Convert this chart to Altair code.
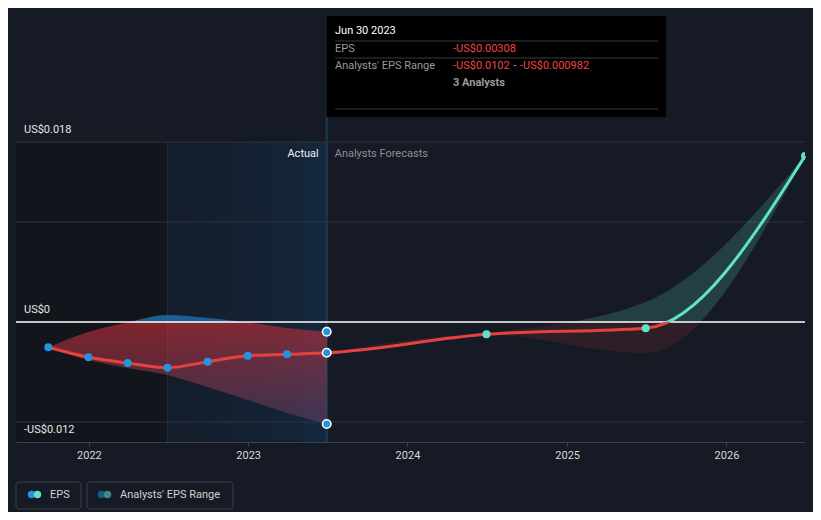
import altair as alt
import pandas as pd

FONT = "Roboto"
BG = "#151a24"
RED = "#e5413f"
TEAL = "#5fe2c8"
BLUE = "#2394df"

# ---- data ----
actual_dates = ["2021-09-30", "2021-12-31", "2022-03-31", "2022-06-30",
                "2022-09-30", "2022-12-31", "2023-03-31", "2023-06-30"]
actual_eps = [-0.00253, -0.00353, -0.0041, -0.00457, -0.00397, -0.00337, -0.00323, -0.00308]
actual_low = [-0.00253, -0.0038, -0.0046, -0.0053, -0.0065, -0.0078, -0.0091, -0.0102]
actual_high = [-0.00253, -0.0010, -0.00005, 0.0007, 0.0004, -0.00005, -0.0006, -0.000982]

fc_dates = ["2023-06-30", "2024-06-30", "2025-06-30", "2026-06-30"]
fc_eps = [-0.00308, -0.00123, -0.00063, 0.0166]
fc_low = [-0.00308, -0.00125, -0.0031, 0.0166]
fc_high = [-0.00308, -0.0012, 0.0020, 0.0166]

tick_years = [2022, 2023, 2024, 2025, 2026]
grid_values = [0.018, 0.01, -0.01]
y_label_values = [0.018, 0.0, -0.012]
y_label_texts = ["US$0.018", "US$0", "-US$0.012"]
region_dates = ["2021-07-18", "2022-06-30", "2023-06-30"]
x_domain = ["2021-07-18", "2026-06-30"]
y_domain = [-0.012, 0.018]
tooltip_date = "Jun 30 2023"
tooltip_analysts = "3 Analysts"

W, H = 789, 300


def dt(s):
    y, m, d = map(int, s.split("-"))
    return alt.DateTime(year=y, month=m, date=d, utc=True)


def fmt(v):
    return ("-" if v < 0 else "") + "US$" + f"{abs(v):g}"


xscale = alt.Scale(domain=[dt(x_domain[0]), dt(x_domain[1])])
yscale = alt.Scale(domain=y_domain)
xaxis = alt.Axis(values=[alt.DateTime(year=y, month=1, date=1, utc=True) for y in tick_years],
                 format="%Y", formatType="utc", title=None, grid=False,
                 domainColor="#3b414c", tickColor="#3b414c", tickSize=4,
                 labelColor="#d8d8d8", labelFont=FONT, labelFontSize=11, labelPadding=3)


def X(f):
    return alt.X(f"{f}:T", scale=xscale, axis=xaxis)


def Y(f):
    return alt.Y(f"{f}:Q", scale=yscale, axis=None)


def vgrad(stops, horizontal=False):
    return alt.Gradient(gradient="linear",
                        stops=[alt.GradientStop(offset=o, color=c) for o, c in stops],
                        x1=0, y1=0, x2=1 if horizontal else 0, y2=0 if horizontal else 1)


one = pd.DataFrame({"a": [0]})


def txt(s, x, y, color, size=11, align="left", weight="normal"):
    return alt.Chart(one).mark_text(text=s, align=align, baseline="middle", color=color,
                                    fontSize=size, font=FONT, fontWeight=weight).encode(
        x=alt.value(x), y=alt.value(y))


# ---- frames ----
line_df = pd.DataFrame({"date": actual_dates + fc_dates[1:], "eps": actual_eps + fc_eps[1:]})
act_df = pd.DataFrame({"date": actual_dates, "eps": actual_eps, "low": actual_low, "high": actual_high})
fc_df = pd.DataFrame({"date": fc_dates, "eps": fc_eps, "low": fc_low, "high": fc_high})
dark_df = pd.DataFrame({"s": [region_dates[0]], "e": [region_dates[1]]})
hl_df = pd.DataFrame({"s": [region_dates[1]], "e": [region_dates[2]]})
hl_start_df = pd.DataFrame({"date": [region_dates[1]]})
now_df = pd.DataFrame({"date": [region_dates[2]]})
grid_df = pd.DataFrame({"v": grid_values})
zero_df = pd.DataFrame({"v": [0.0]})
ylab_df = pd.DataFrame({"v": y_label_values, "t": y_label_texts})
last_pts = pd.DataFrame({"date": [actual_dates[-1]] * 3,
                         "v": [actual_eps[-1], actual_low[-1], actual_high[-1]]})


# gradient offsets where value == 0
def zoff(vals):
    mx, mn = max(vals), min(vals)
    return mx / (mx - mn)


z_line = zoff(line_df["eps"].tolist())
z_act = zoff(actual_low + actual_high)
z_fc = zoff(fc_low + fc_high)

layers = []
layers.append(alt.Chart(dark_df).mark_rect(color="#12151c").encode(
    x=X("s"), x2="e", y=alt.value(0), y2=alt.value(H)))
layers.append(alt.Chart(hl_df).mark_rect(fill=vgrad(
    [(0, "rgba(10,100,180,0.04)"), (0.86, "rgba(10,100,180,0.14)"),
     (0.861, "rgba(10,100,180,0.19)"), (1, "rgba(10,100,180,0.19)")], horizontal=True)).encode(
    x=X("s"), x2="e", y=alt.value(0), y2=alt.value(H)))
layers.append(alt.Chart(hl_start_df).mark_rule(color="rgba(60,110,160,0.25)", strokeWidth=1).encode(
    x=X("date"), y=alt.value(0), y2=alt.value(H)))
layers.append(alt.Chart(grid_df).mark_rule(color="#2e343e", strokeWidth=1).encode(y=Y("v")))
layers.append(alt.Chart(now_df).mark_rule(color="#1c3a54", strokeWidth=2).encode(
    x=X("date"), y=alt.value(-25), y2=alt.value(H)))
layers.append(alt.Chart(act_df).mark_area(interpolate="monotone", fill=vgrad([
    (0, "#1d5e93"), (z_act, "#1d5e93"), (z_act, "rgba(200,45,52,0.62)"),
    (1, "rgba(125,72,112,0.40)")])).encode(x=X("date"), y=Y("low"), y2="high"))
layers.append(alt.Chart(fc_df).mark_area(interpolate="monotone", fill=vgrad([
    (0, "rgba(95,225,200,0.19)"), (z_fc, "rgba(95,225,200,0.19)"),
    (z_fc, "rgba(229,65,63,0.12)"), (1, "rgba(229,65,63,0.12)")])).encode(
    x=X("date"), y=Y("low"), y2="high"))
layers.append(alt.Chart(zero_df).mark_rule(color="#ffffff", strokeWidth=1.5).encode(y=Y("v")))
layers.append(alt.Chart(line_df).mark_line(interpolate="monotone", strokeWidth=3, stroke=vgrad([
    (0, TEAL), (z_line, TEAL), (z_line, RED), (1, RED)])).encode(x=X("date"), y=Y("eps")))
layers.append(alt.Chart(act_df.iloc[:-1]).mark_circle(size=64, color=BLUE, opacity=1).encode(
    x=X("date"), y=Y("eps")))
layers.append(alt.Chart(last_pts).mark_point(filled=True, size=72, fill=BLUE, stroke="#ffffff",
                                             strokeWidth=1.5, opacity=1).encode(
    x=X("date"), y=Y("v")))
layers.append(alt.Chart(fc_df.iloc[1:]).mark_circle(size=64, color=TEAL, opacity=1, clip=True).encode(
    x=X("date"), y=Y("eps")))
layers.append(alt.Chart(ylab_df).mark_text(align="left", baseline="middle", dy=-12, color="#e6e6e6",
                                           fontSize=11, font=FONT).encode(
    x=alt.value(8), y=Y("v"), text="t:N"))
layers.append(alt.Chart(now_df).mark_text(text="Actual", align="right", baseline="middle", dx=-8,
                                          color="#f0f0f0", fontSize=11, font=FONT).encode(
    x=X("date"), y=alt.value(12)))
layers.append(alt.Chart(now_df).mark_text(text="Analysts Forecasts", align="left", baseline="middle",
                                          dx=8, color="#8b9099", fontSize=11, font=FONT).encode(
    x=X("date"), y=alt.value(12)))

# ---- tooltip box ----
layers.append(alt.Chart(one).mark_rect(color="#000000").encode(
    x=alt.value(311), x2=alt.value(650), y=alt.value(-126), y2=alt.value(-25)))
for yy in [-101, -84, -33]:
    layers.append(alt.Chart(one).mark_rule(color="#3a3a3a", strokeWidth=1).encode(
        x=alt.value(319), x2=alt.value(642), y=alt.value(yy)))
layers.append(txt(tooltip_date, 319, -111, "#ffffff", 11))
layers.append(txt("EPS", 319, -93, "#9a9a9a", 11))
layers.append(txt(fmt(actual_eps[-1]), 437, -93, "#f04545", 11))
layers.append(txt("Analysts' EPS Range", 319, -76, "#9a9a9a", 11))
layers.append(txt(fmt(actual_low[-1]), 437, -76, "#f04545", 11))
layers.append(txt("-", 499, -76, "#9a9a9a", 11, align="center"))
layers.append(txt(fmt(actual_high[-1]), 504, -76, "#f04545", 11))
layers.append(txt(tooltip_analysts, 437, -59, "#9a9a9a", 11, weight="bold"))

# ---- legend ----
for x0, x1 in [(0, 65), (71, 217)]:
    layers.append(alt.Chart(one).mark_rect(fill=BG, stroke="#3b404b", strokeWidth=1, cornerRadius=3).encode(
        x=alt.value(x0), x2=alt.value(x1), y=alt.value(340), y2=alt.value(367)))
for cx, col in [(15.5, BLUE), (21.5, TEAL), (85.5, "#1d5a8a"), (91.5, "#3f8a80")]:
    layers.append(alt.Chart(one).mark_circle(size=55, color=col, opacity=1).encode(
        x=alt.value(cx), y=alt.value(352.5)))
layers.append(txt("EPS", 34, 353, "#d0d0d0", 11))
layers.append(txt("Analysts' EPS Range", 104, 353, "#d0d0d0", 11))

chart = alt.layer(*layers).properties(
    width=W, height=H,
    autosize=alt.AutoSizeParams(type="none"),
    padding={"left": 8, "top": 134, "right": 8, "bottom": 70},
    background=BG,
).configure_view(stroke=None)

chart.save("out.html", embed_options={"renderer": "svg", "actions": False})
